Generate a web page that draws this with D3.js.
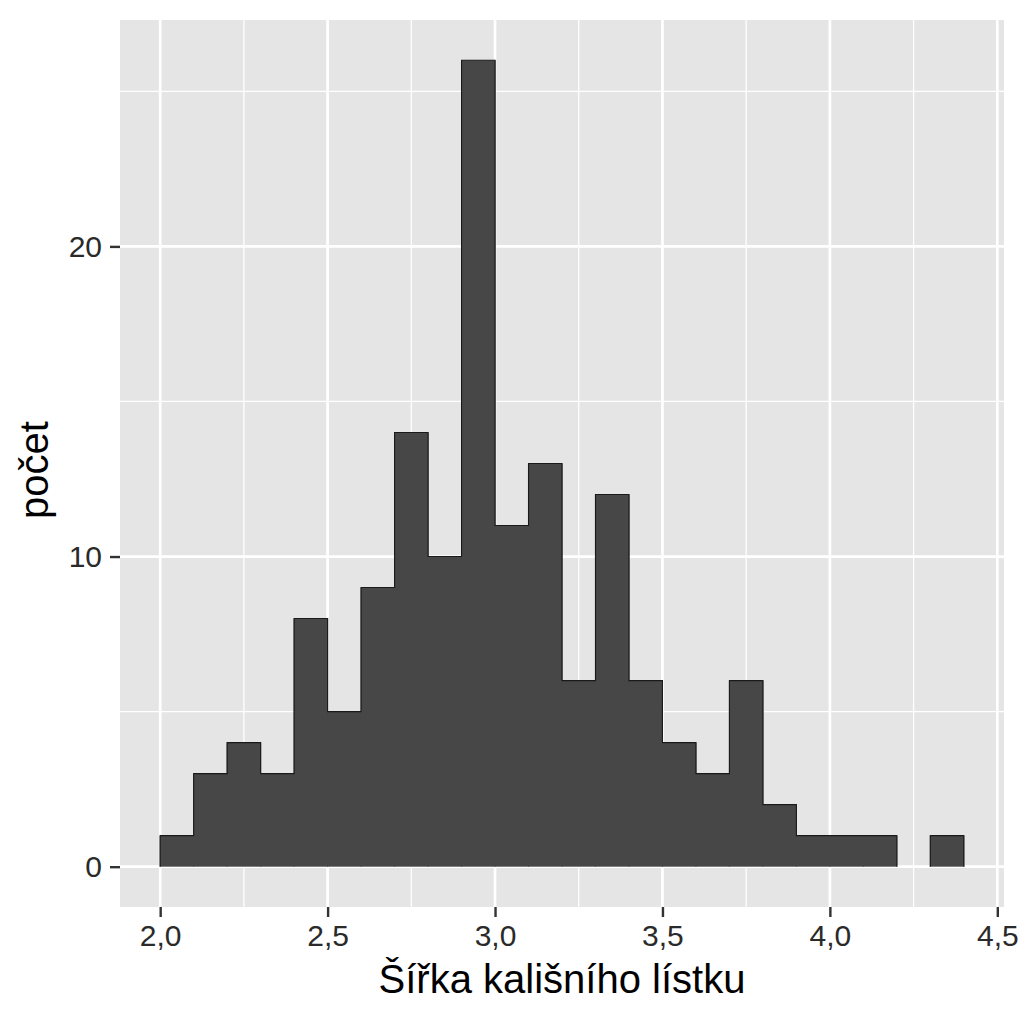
<!DOCTYPE html>
<html><head><meta charset="utf-8">
<script src="https://cdn.jsdelivr.net/npm/d3@7"></script>
<style>body{margin:0;background:#fff}svg{display:block}</style>
</head><body>
<svg id="c" width="1024" height="1024"></svg>
<script>
const binStarts = [2.0,2.1,2.2,2.3,2.4,2.5,2.6,2.7,2.8,2.9,3.0,3.1,3.2,3.3,3.4,3.5,3.6,3.7,3.8,3.9,4.0,4.1,4.2,4.3];
const counts    = [1,3,4,3,8,5,9,14,10,26,11,13,6,12,6,4,3,6,2,1,1,1,0,1];
const binWidth = 0.1;
const xTicks = [2.0,2.5,3.0,3.5,4.0,4.5];
const xMinor = [2.25,2.75,3.25,3.75,4.25];
const yTicks = [0,10,20];
const yMinor = [5,15,25];
const xTitle = "Šířka kališního lístku";
const yTitle = "počet";

const svg = d3.select("#c");
const L = 120, R = 1004, T = 20, B = 907;
const x = d3.scaleLinear().domain([1.88, 4.52]).range([L, R]);
const y = d3.scaleLinear().domain([-1.3, 27.3]).range([B, T]);
const loc = d3.formatLocale({decimal: ",", thousands: " ", grouping: [3], currency: ["", ""]});
const fx = loc.format(".1f");
const font = "'Liberation Sans', Arial, sans-serif";

svg.append("rect").attr("x", L).attr("y", T).attr("width", R - L).attr("height", B - T).attr("fill", "#E5E5E5");
const g = svg.append("g");
g.selectAll(".xm").data(xMinor).join("line").attr("x1", d => x(d)).attr("x2", d => x(d)).attr("y1", T).attr("y2", B).attr("stroke", "#fff").attr("stroke-width", 1.3);
g.selectAll(".ym").data(yMinor).join("line").attr("y1", d => y(d)).attr("y2", d => y(d)).attr("x1", L).attr("x2", R).attr("stroke", "#fff").attr("stroke-width", 1.3);
g.selectAll(".xM").data(xTicks).join("line").attr("x1", d => x(d)).attr("x2", d => x(d)).attr("y1", T).attr("y2", B).attr("stroke", "#fff").attr("stroke-width", 2.7);
g.selectAll(".yM").data(yTicks).join("line").attr("y1", d => y(d)).attr("y2", d => y(d)).attr("x1", L).attr("x2", R).attr("stroke", "#fff").attr("stroke-width", 2.7);

const bins = binStarts.map((s, i) => ({x0: s, x1: s + binWidth, n: counts[i]}));
const shown = bins.filter(d => d.n > 0);
svg.append("g").selectAll("rect").data(shown).join("rect")
  .attr("x", d => x(d.x0) - 0.5).attr("width", d => x(d.x1) - x(d.x0) + 1)
  .attr("y", d => y(d.n)).attr("height", d => y(0) - y(d.n))
  .attr("fill", "#474747");

// outer outline of each contiguous run of non-empty bins
const runs = [];
let cur = [];
bins.forEach(d => { if (d.n > 0) cur.push(d); else { if (cur.length) runs.push(cur); cur = []; } });
if (cur.length) runs.push(cur);
const outline = svg.append("g");
runs.forEach(run => {
  const pts = [[run[0].x0, 0]];
  run.forEach(d => { pts.push([d.x0, d.n]); pts.push([d.x1, d.n]); });
  pts.push([run[run.length - 1].x1, 0]);
  outline.append("path")
    .attr("d", d3.line().x(p => x(p[0])).y(p => y(p[1]))(pts))
    .attr("fill", "none").attr("stroke", "#1a1a1a").attr("stroke-width", 1.1);
});

const xa = svg.append("g").attr("transform", `translate(0,${B})`)
  .call(d3.axisBottom(x).tickValues(xTicks).tickFormat(fx).tickSize(10).tickPadding(8));
const ya = svg.append("g").attr("transform", `translate(${L},0)`)
  .call(d3.axisLeft(y).tickValues(yTicks).tickFormat(d3.format("d")).tickSize(10).tickPadding(8));
[xa, ya].forEach(a => {
  a.select(".domain").remove();
  a.selectAll(".tick line").attr("stroke", "#333").attr("stroke-width", 2.4);
  a.selectAll(".tick text").attr("fill", "#2a2a2a").style("font-family", font).style("font-size", "30px");
});

svg.append("text").attr("x", (L + R) / 2).attr("y", 993).attr("text-anchor", "middle")
  .style("font-family", font).style("font-size", "40px").attr("fill", "#000").text(xTitle);
svg.append("text").attr("transform", `translate(48,470) rotate(-90)`).attr("text-anchor", "middle")
  .style("font-family", font).style("font-size", "40px").attr("fill", "#000").text(yTitle);
</script>
</body></html>
